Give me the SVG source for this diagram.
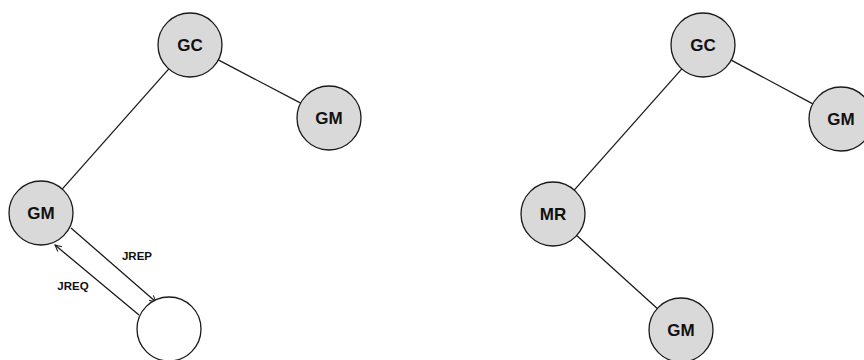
<svg xmlns="http://www.w3.org/2000/svg" width="864" height="360" viewBox="0 0 864 360">
  <defs>
    <style>
      .node { fill: #d9d9d9; stroke: #1a1a1a; stroke-width: 1.3; }
      .empty { fill: #ffffff; stroke: #1a1a1a; stroke-width: 1.3; }
      .lbl { font-family: "Liberation Sans", Arial, sans-serif; font-weight: bold; font-size: 17px; fill: #111; text-anchor: middle; dominant-baseline: central; }
      .elbl { font-family: "Liberation Sans", Arial, sans-serif; font-weight: bold; font-size: 11.5px; fill: #111; text-anchor: middle; dominant-baseline: central; }
      .edge { stroke: #1a1a1a; stroke-width: 1.3; fill: none; }
    </style>
    <marker id="open" viewBox="0 0 10 10" refX="9" refY="5" markerWidth="8" markerHeight="8" markerUnits="userSpaceOnUse" orient="auto">
      <path d="M1,1 L9,5 L1,9" fill="none" stroke="#1a1a1a" stroke-width="1.3"/>
    </marker>
  </defs>
  <rect width="864" height="360" fill="#ffffff"/>
  <g id="connectors">
    <line class="edge" x1="218.3" y1="59.9" x2="300.7" y2="103.1"/>
    <line class="edge" x1="168.8" y1="68.9" x2="62.2" y2="189.1"/>
    <line class="edge" x1="71" y1="228" x2="156" y2="302" marker-end="url(#open)"/>
    <line class="edge" x1="139" y1="315" x2="55" y2="245" marker-end="url(#open)"/>
    <line class="edge" x1="731.2" y1="60.1" x2="812.8" y2="103.9"/>
    <line class="edge" x1="681.8" y1="68.9" x2="574.2" y2="190.1"/>
    <line class="edge" x1="576.7" y1="235.5" x2="657.3" y2="308.5"/>
    <text class="elbl" x="137" y="256">JREP</text>
    <text class="elbl" x="73" y="286">JREQ</text>
  </g>
  <g id="left-gc"><circle class="node" cx="190" cy="45" r="32"/><text class="lbl" x="190" y="45">GC</text></g>
  <g id="left-gm-right"><circle class="node" cx="329" cy="118" r="32"/><text class="lbl" x="329" y="118">GM</text></g>
  <g id="left-gm"><circle class="node" cx="41" cy="213" r="32"/><text class="lbl" x="41" y="213">GM</text></g>
  <g id="left-empty"><circle class="empty" cx="169" cy="329" r="32"/></g>
  <g id="right-gc"><circle class="node" cx="703" cy="45" r="32"/><text class="lbl" x="703" y="45">GC</text></g>
  <g id="right-gm-right"><circle class="node" cx="841" cy="119" r="32"/><text class="lbl" x="841" y="119">GM</text></g>
  <g id="right-mr"><circle class="node" cx="553" cy="214" r="32"/><text class="lbl" x="553" y="214">MR</text></g>
  <g id="right-gm-bottom"><circle class="node" cx="681" cy="330" r="32"/><text class="lbl" x="681" y="330">GM</text></g>
</svg>
